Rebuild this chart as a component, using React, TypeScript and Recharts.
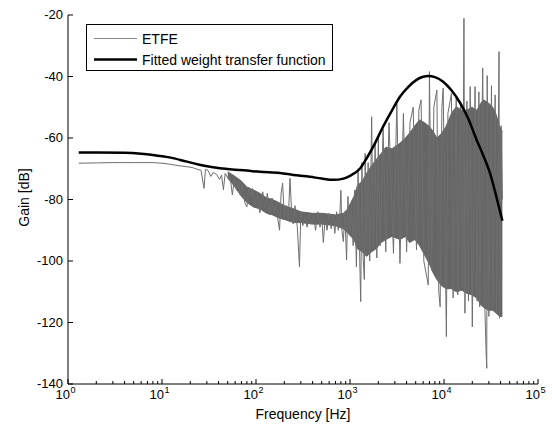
import React from 'react';
import { ComposedChart, Line, Area, XAxis, YAxis, Legend } from 'recharts';

const FONT = '"Liberation Sans", Arial, Helvetica, sans-serif';

// Fitted weight transfer function (black)
const fitFreq = [1.3, 2, 4, 6, 8, 12, 18, 25, 35, 50, 80, 110, 180, 250, 375, 500, 670, 850, 1000, 1280, 1510, 1790, 2250, 2800, 3400, 4200, 5100, 6000, 6800, 8000, 9800, 12000, 14900, 18000, 22300, 26000, 30900, 36000, 41800];
const fitGain = [-64.7, -64.7, -64.8, -65.1, -65.5, -66.3, -67.6, -68.7, -69.5, -70.1, -70.6, -71.0, -71.4, -72.0, -72.6, -73.2, -73.6, -73.2, -72.3, -69.9, -66.5, -62.5, -56.3, -51.0, -46.6, -43.3, -41.1, -40.1, -39.8, -40.2, -41.7, -44.5, -48.7, -53.5, -60.7, -65.5, -71.5, -79.0, -86.9];

// ETFE trace (grey, noisy)
const etfeFreq = [
  1.3, 2, 3, 5, 8, 10, 12, 15, 18, 21, 24, 26, 28, 29, 31, 33, 35, 38, 41, 43,
  45, 47, 50, 53, 56, 59, 62, 65, 68, 72, 76, 80, 84, 88, 92, 97, 103, 110, 118, 125,
  132, 140, 148, 155, 163, 170, 178, 185, 192, 200, 210, 220, 230, 240, 250, 260, 275, 290, 300, 315,
  330, 350, 370, 390, 410, 430, 455, 480, 500, 520, 545, 570, 600, 630, 660, 690, 720, 750, 780, 800,
  820, 850, 880, 920, 950, 990, 1030, 1080, 1120, 1170, 1220, 1270, 1300, 1340, 1380, 1420, 1450, 1500, 1560, 1620,
  1700, 1760, 1850, 1930, 2000, 2100, 2250, 2400, 2600, 2900, 3150, 3400, 3700, 4000, 4350, 4700, 5100, 5400, 5700, 6100,
  6800, 7000, 7400, 7800, 8400, 8800, 9100, 9500, 9800, 10600, 11000, 12000, 12500, 13500, 14000, 15000, 15800, 16300, 16700, 17500,
  18200, 19000, 20000, 21400, 22500, 23500, 24000, 25800, 27000, 28000, 28500, 28800, 30000, 32000, 33000, 35000, 36500, 38500, 39000, 40500,
  41800,
];
const etfeGain = [
  -68.2, -68.1, -68.0, -68.0, -68.0, -68.2, -68.5, -69.0, -69.3, -69.6, -70.2, -70.5, -76.4, -70.2, -70.6, -72.5, -71.2, -71.8, -73.5, -72.0,
  -76.8, -71.5, -73.0, -72.5, -78.5, -73.0, -77.0, -73.8, -78.5, -75.0, -81.0, -82.4, -76.0, -79.0, -76.4, -82.0, -78.0, -84.3, -77.5, -83.0,
  -78.0, -85.0, -79.5, -84.5, -81.0, -86.0, -90.0, -78.0, -74.7, -86.0, -82.0, -87.0, -73.1, -85.0, -88.0, -82.0, -89.0, -101.9, -84.0, -88.5,
  -85.6, -89.0, -84.5, -88.0, -85.0, -90.0, -84.0, -89.0, -85.0, -94.0, -86.0, -90.0, -84.5, -89.5, -85.0, -91.0, -84.0, -90.0, -85.0, -77.0,
  -90.0, -93.7, -84.0, -99.7, -79.0, -90.0, -82.0, -95.0, -77.0, -101.9, -70.0, -100.0, -113.2, -68.0, -99.0, -106.0, -65.0, -98.0, -68.0, -100.0,
  -53.1, -96.0, -62.0, -99.0, -60.0, -95.0, -57.0, -97.0, -55.0, -97.5, -48.7, -100.8, -52.0, -97.0, -55.0, -50.0, -96.4, -51.0, -47.6, -100.0,
  -107.8, -38.4, -103.0, -50.0, -44.4, -110.0, -114.9, -50.0, -43.8, -124.6, -52.0, -45.5, -112.0, -46.6, -111.0, -48.0, -108.0, -21.1, -117.0, -48.0,
  -113.0, -43.3, -121.4, -43.3, -113.0, -45.0, -114.9, -37.2, -112.0, -128.9, -134.9, -39.7, -118.0, -43.0, -115.2, -46.0, -117.0, -31.9, -118.6, -56.0,
  -80.0,
];

// Dense core of the ETFE trace (upper / lower edge)
const bandFreq = [50, 60, 70, 80, 95, 110, 130, 150, 175, 200, 250, 300, 400, 500, 700, 850, 950, 1100, 1200, 1350, 1500, 1700, 1900, 2150, 2400, 2800, 3400, 3900, 4300, 4900, 5500, 6200, 7000, 7700, 8400, 9400, 10500, 12000, 13500, 15500, 17400, 19800, 22300, 24300, 26200, 29500, 33000, 36000, 39000, 41800];
const bandHigh = [-71, -72.5, -74, -76, -77, -78, -79.5, -80, -81, -82, -83, -84, -84.5, -84.5, -85, -84.5, -83, -79, -75.5, -74, -71.5, -69, -67, -65, -63, -63.5, -61.7, -60, -58.4, -56, -54.1, -55, -56.3, -58, -60, -58.5, -56.3, -52, -49.8, -51, -51, -50, -51, -49, -47.6, -48.5, -50, -52.5, -56.3, -58];
const bandLow = [-73, -76, -79, -81, -82.5, -83, -84.5, -85, -86, -86.5, -87.5, -87.5, -88, -88, -88.5, -89.5, -91, -93, -96, -97, -98.5, -97, -96, -94, -93, -92, -93, -92, -94, -93, -95, -98, -101, -104, -106, -108, -109, -109, -110, -109.5, -110.5, -111, -112, -114, -115, -116, -116, -117, -118, -118];

const xDecades = [1, 10, 100, 1000, 10000];
const xMinorMult = [1, 2, 3, 4, 5, 6, 7, 8, 9];
const xTicks = [...xDecades.flatMap((d) => xMinorMult.map((m) => m * d)), 100000];
const yTicks = [-140, -120, -100, -80, -60, -40, -20];

const fitData = fitFreq.map((f, i) => ({ f, g: fitGain[i] }));
const etfeData = etfeFreq.map((f, i) => ({ f, g: etfeGain[i] }));
const bandData = bandFreq.map((f, i) => ({ f, range: [bandLow[i], bandHigh[i]] }));

const isMajor = (v: number) => {
  const l = Math.log10(v);
  return Math.abs(l - Math.round(l)) < 1e-9;
};

const BottomTick = (props: any) => {
  const { x, y, payload } = props;
  const v = payload.value;
  const major = isMajor(v);
  const e = Math.round(Math.log10(v));
  return (
    <g>
      <line x1={x} x2={x} y1={y} y2={y - (major ? 5 : 3)} stroke="#000" strokeWidth={1} />
      {major && (
        <text x={x + 2} y={y + 15} textAnchor="end" fontSize={13} fontFamily={FONT} fill="#000">
          10
        </text>
      )}
      {major && (
        <text x={x + 2.5} y={y + 9} textAnchor="start" fontSize={9} fontFamily={FONT} fill="#000">
          {e}
        </text>
      )}
    </g>
  );
};

const TopTick = (props: any) => {
  const { x, y, payload } = props;
  const major = isMajor(payload.value);
  return <line x1={x} x2={x} y1={y} y2={y + (major ? 5 : 3)} stroke="#000" strokeWidth={1} />;
};

const LeftTick = (props: any) => {
  const { x, y, payload } = props;
  return (
    <g>
      <line x1={x} x2={x + 5} y1={y} y2={y} stroke="#000" strokeWidth={1} />
      <text x={x - 5} y={y} dy="0.33em" textAnchor="end" fontSize={13} fontFamily={FONT} fill="#000">
        {String(payload.value)}
      </text>
    </g>
  );
};

const RightTick = (props: any) => {
  const { x, y } = props;
  return <line x1={x} x2={x - 5} y1={y} y2={y} stroke="#000" strokeWidth={1} />;
};

const LegendBox = () => (
  <svg width={248} height={48} style={{ display: 'block' }}>
    <rect x={0.5} y={0.5} width={246} height={46} fill="#fff" stroke="#000" strokeWidth={1} />
    <line x1={8} x2={51} y1={14.5} y2={14.5} stroke="#888" strokeWidth={1} />
    <text x={56} y={19.5} fontSize={14} fontFamily={FONT} fill="#000">ETFE</text>
    <line x1={8} x2={51} y1={35.5} y2={35.5} stroke="#000" strokeWidth={2.5} />
    <text x={56} y={40.5} fontSize={14} fontFamily={FONT} fill="#000">Fitted weight transfer function</text>
  </svg>
);

export default function App() {
  return (
    <div style={{ position: 'absolute', left: 0, top: 0, width: 552, height: 430, background: '#fff' }}>
      <ComposedChart width={552} height={430} margin={{ top: 15, right: 14, bottom: 0, left: 0 }}>
        <XAxis
          xAxisId="b"
          dataKey="f"
          type="number"
          scale="log"
          domain={[1, 100000]}
          allowDataOverflow
          ticks={xTicks}
          interval={0}
          tickSize={0}
          tickMargin={0}
          tickLine={false}
          axisLine={{ stroke: '#000', strokeWidth: 1 }}
          tick={<BottomTick />}
          height={46}
          label={(p: any) => {
            const vb = p.viewBox;
            return (
              <text x={vb.x + vb.width / 2} y={vb.y + 35} textAnchor="middle" fontSize={14} fontFamily={FONT} fill="#000">
                Frequency [Hz]
              </text>
            );
          }}
        />
        <XAxis
          xAxisId="t"
          orientation="top"
          dataKey="f"
          type="number"
          scale="log"
          domain={[1, 100000]}
          allowDataOverflow
          ticks={xTicks}
          interval={0}
          tickSize={0}
          tickMargin={0}
          tickLine={false}
          axisLine={{ stroke: '#000', strokeWidth: 1 }}
          tick={<TopTick />}
          height={0}
        />
        <YAxis
          yAxisId="l"
          type="number"
          domain={[-140, -20]}
          allowDataOverflow
          ticks={yTicks}
          interval={0}
          tickSize={0}
          tickMargin={0}
          tickLine={false}
          axisLine={{ stroke: '#000', strokeWidth: 1 }}
          tick={<LeftTick />}
          width={68}
          label={(p: any) => {
            const vb = p.viewBox;
            const cx = 24;
            const cy = vb.y + vb.height / 2 - 2;
            return (
              <text x={cx} y={cy} dy="0.36em" transform={`rotate(-90 ${cx} ${cy})`} textAnchor="middle" fontSize={14} fontFamily={FONT} fill="#000">
                Gain [dB]
              </text>
            );
          }}
        />
        <YAxis
          yAxisId="r"
          orientation="right"
          type="number"
          domain={[-140, -20]}
          allowDataOverflow
          ticks={yTicks}
          interval={0}
          tickSize={0}
          tickMargin={0}
          tickLine={false}
          axisLine={{ stroke: '#000', strokeWidth: 1 }}
          tick={<RightTick />}
          width={0}
        />
        <Area
          xAxisId="b"
          yAxisId="l"
          data={bandData}
          dataKey="range"
          type="linear"
          stroke="#666"
          strokeWidth={1}
          fill="#666"
          fillOpacity={1}
          isAnimationActive={false}
          legendType="none"
        />
        <Line
          xAxisId="b"
          yAxisId="l"
          data={etfeData}
          dataKey="g"
          type="linear"
          stroke="#6e6e6e"
          strokeWidth={1}
          dot={false}
          activeDot={false}
          isAnimationActive={false}
        />
        <Line
          xAxisId="b"
          yAxisId="l"
          data={fitData}
          dataKey="g"
          type="monotone"
          stroke="#000"
          strokeWidth={2.5}
          dot={false}
          activeDot={false}
          isAnimationActive={false}
        />
        <Legend
          layout="vertical"
          align="center"
          verticalAlign="middle"
          wrapperStyle={{ position: 'absolute', left: 86, top: 24, width: 248, height: 48 }}
          content={() => <LegendBox />}
        />
      </ComposedChart>
    </div>
  );
}
